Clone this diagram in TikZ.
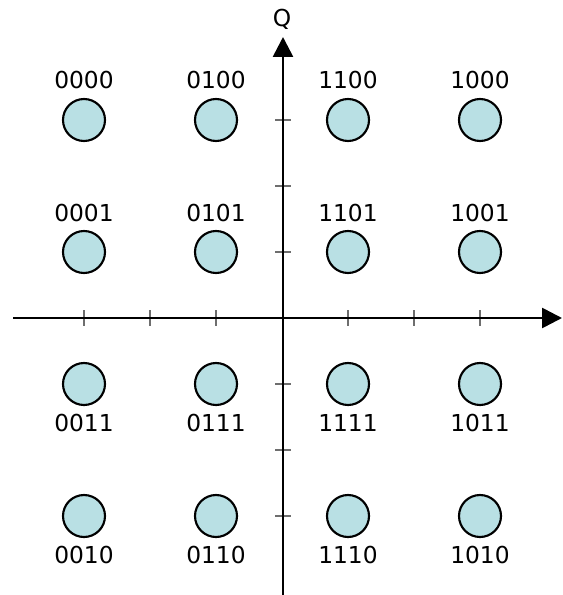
\documentclass[tikz,border=0pt]{standalone}
\usepackage{fontspec}
\setmainfont{DejaVu Sans}
\usetikzlibrary{arrows.meta}
\definecolor{ptfill}{RGB}{185,224,228}
\definecolor{tickgray}{RGB}{110,110,110}
\begin{document}
\begin{tikzpicture}[x=0.75pt,y=-0.75pt,
  pt/.style={circle,draw=black,line width=1.6pt,fill=ptfill,minimum size=31.5pt,inner sep=0pt},
  lbl/.style={inner sep=0pt,anchor=base,font=\fontsize{17.5}{20}\selectfont},
  axis/.style={line width=2pt,-{Triangle[length=15pt,width=15pt]}},
  tk/.style={tickgray,line width=0.8pt}]
\useasboundingbox (0,0) rectangle (562,595);
% ticks
\foreach \v in {84,150,216,348,414,480}{
  \draw[tk] (\v,310) -- (\v,326);
}
\foreach \v in {120,186,252,384,450,516}{
  \draw[tk] (275,\v) -- (291,\v);
}
% axes
\coordinate (xs) at (13,318);
\coordinate (xe) at (562,318);
\coordinate (ys) at (283,595);
\coordinate (ye) at (283,37);
\draw[axis] (xs) -- (xe);
\draw[axis] (ys) -- (ye);
\node[lbl] (Q) at (282,27) {Q};
% points
\foreach \x/\y/\t/\o in {84/120/0000/-31,216/120/0100/-31,348/120/1100/-31,480/120/1000/-31,
  84/252/0001/-31,216/252/0101/-31,348/252/1101/-31,480/252/1001/-31,
  84/384/0011/47.5,216/384/0111/47.5,348/384/1111/47.5,480/384/1011/47.5,
  84/516/0010/47.5,216/516/0110/47.5,348/516/1110/47.5,480/516/1010/47.5}{
  \node[pt] (p\t) at (\x,\y) {};
  \node[lbl] (l\t) at (\x,\y+\o) {\t};
}
\end{tikzpicture}
\end{document}
